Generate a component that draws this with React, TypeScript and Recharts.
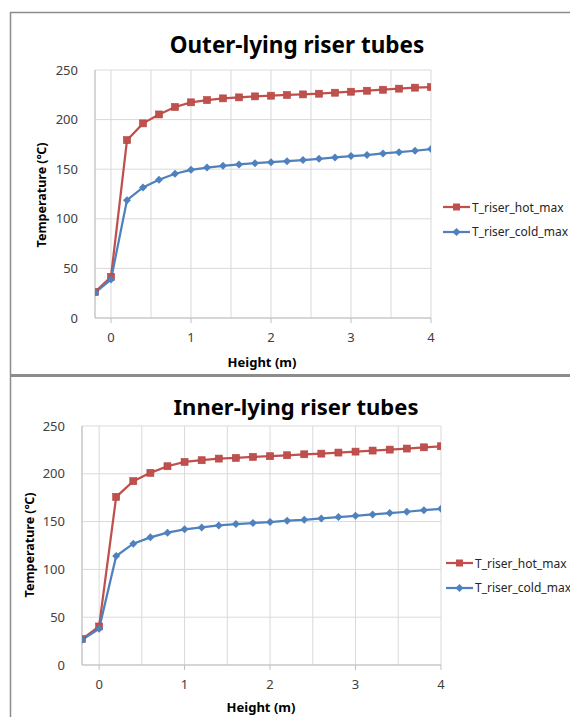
import React from 'react';
import { LineChart, Line, XAxis, YAxis, CartesianGrid, Legend } from 'recharts';

const heights = [-0.2, 0, 0.2, 0.4, 0.6, 0.8, 1.0, 1.2, 1.4, 1.6, 1.8, 2.0, 2.2, 2.4, 2.6, 2.8, 3.0, 3.2, 3.4, 3.6, 3.8, 4.0];
const outerHot = [26.2, 41.4, 179.3, 196.2, 205.2, 212.7, 217.4, 219.7, 221.4, 222.4, 223.4, 224.1, 224.8, 225.4, 226.1, 227.1, 228.1, 229.1, 230.1, 231.2, 232.2, 232.8];
const outerCold = [25.6, 38.7, 118.8, 131.6, 139.3, 145.4, 149.4, 151.7, 153.4, 154.8, 156.1, 157.1, 158.1, 159.2, 160.5, 161.8, 163.2, 164.2, 165.9, 167.2, 168.6, 170.3];
const innerHot = [27.1, 40.3, 175.9, 192.3, 201.0, 207.9, 212.4, 214.2, 215.9, 216.6, 217.7, 218.4, 219.4, 220.4, 221.1, 222.2, 223.2, 224.3, 225.3, 226.4, 227.7, 228.8];
const innerCold = [26.4, 37.9, 114.0, 126.9, 133.5, 138.4, 141.9, 143.9, 146.0, 147.4, 148.5, 149.5, 150.9, 151.9, 153.3, 154.7, 156.1, 157.5, 158.9, 160.3, 162.0, 163.4];

const seriesNames = ['T_riser_hot_max', 'T_riser_cold_max'];
const titles = ['Outer-lying riser tubes', 'Inner-lying riser tubes'];
const xTitle = 'Height (m)';
const yTitle = 'Temperature (℃)';
const xGridValues = [0, 0.5, 1, 1.5, 2, 2.5, 3, 3.5, 4];
const yTicks = [0, 50, 100, 150, 200, 250];

const HOT = '#C0504D';
const COLD = '#4F81BD';
const FONT = '"Noto Sans", "Open Sans", sans-serif';

const buildRows = (hot: number[], cold: number[]) =>
  heights.map((h, i) => ({ h, hot: hot[i], cold: cold[i] }));

const outerRows = buildRows(outerHot, outerCold);
const innerRows = buildRows(innerHot, innerCold);

const SquareDot = (props: any) => {
  const { cx, cy, index } = props;
  if (cx == null || cy == null) return <g key={`sq-${index}`} />;
  return <rect key={`sq-${index}`} x={cx - 3.5} y={cy - 3.5} width={7} height={7} fill={HOT} stroke="#B3433F" strokeWidth={0.6} />;
};

const DiamondDot = (props: any) => {
  const { cx, cy, index } = props;
  if (cx == null || cy == null) return <g key={`dm-${index}`} />;
  return <path key={`dm-${index}`} d={`M${cx},${cy - 4}L${cx + 4},${cy}L${cx},${cy + 4}L${cx - 4},${cy}Z`} fill={COLD} />;
};

// X tick: tick mark + label only on whole numbers; half steps only feed the grid
const XTick = (props: any) => {
  const { x, y, payload } = props;
  const v = payload?.value;
  if (!Number.isInteger(v)) return <g />;
  return (
    <g>
      <line x1={x} y1={y - 15} x2={x} y2={y - 10} stroke="#BFBFBF" strokeWidth={1} />
      <text x={x} y={y + 9} textAnchor="middle" fontSize={13} fill="#404040" fontFamily={FONT}>{v}</text>
    </g>
  );
};

const LegendContent = (props: any) => {
  const { payload } = props;
  const entries = [...(payload || [])].sort(
    (a: any, b: any) => seriesNames.indexOf(a.value) - seriesNames.indexOf(b.value)
  );
  return (
    <div style={{ fontFamily: FONT, fontSize: 12, color: '#262626' }}>
      {entries.map((entry: any, i: number) => {
        const isHot = entry.dataKey === 'hot';
        const c = isHot ? HOT : COLD;
        return (
          <div key={i} style={{ display: 'flex', alignItems: 'center', height: 24.5, whiteSpace: 'nowrap' }}>
            <svg width={28} height={12} style={{ display: 'block' }}>
              <line x1={0} y1={6} x2={27} y2={6} stroke={c} strokeWidth={2.25} />
              {isHot ? (
                <rect x={10} y={2.5} width={7} height={7} fill={c} />
              ) : (
                <path d="M13.5,2L17.5,6L13.5,10L9.5,6Z" fill={c} />
              )}
            </svg>
            <span style={{ marginLeft: 1 }}>{entry.value}</span>
          </div>
        );
      })}
    </div>
  );
};

type ChartProps = {
  rows: { h: number; hot: number; cold: number }[];
  height: number;
  margin: { top: number; right: number; bottom: number; left: number };
  yAxisWidth: number;
  xAxisHeight: number;
  legendLeft: number;
  legendTop: number;
};

const RiserChart = ({ rows, height, margin, yAxisWidth, xAxisHeight, legendLeft, legendTop }: ChartProps) => (
  <LineChart width={570} height={height} data={rows} margin={margin} style={{ fontFamily: FONT }}>
    <CartesianGrid stroke="#D9D9D9" strokeWidth={1} />
    <XAxis
      dataKey="h"
      type="number"
      domain={[-0.2, 4]}
      ticks={xGridValues}
      interval={0}
      allowDataOverflow
      height={xAxisHeight}
      tickLine={false}
      tickSize={5}
      tickMargin={10}
      stroke="#BFBFBF"
      tick={<XTick />}
    />
    <YAxis
      type="number"
      domain={[0, 250]}
      ticks={yTicks}
      interval={0}
      width={yAxisWidth}
      tickLine={false}
      tickSize={0}
      tickMargin={17}
      stroke="#BFBFBF"
      tick={{ fontSize: 13, fill: '#404040', fontFamily: FONT }}
    />
    <Legend
      layout="vertical"
      align="center"
      verticalAlign="middle"
      content={<LegendContent />}
      wrapperStyle={{ left: legendLeft, top: legendTop, width: 'auto' }}
    />
    <Line
      type="linear"
      dataKey="hot"
      name={seriesNames[0]}
      stroke={HOT}
      strokeWidth={2.25}
      dot={SquareDot}
      activeDot={false}
      isAnimationActive={false}
    />
    <Line
      type="linear"
      dataKey="cold"
      name={seriesNames[1]}
      stroke={COLD}
      strokeWidth={2.25}
      dot={DiamondDot}
      activeDot={false}
      isAnimationActive={false}
    />
  </LineChart>
);

export default function App() {
  return (
    <div style={{ position: 'absolute', left: 0, top: 0, width: 570, height: 717, background: '#fff', overflow: 'hidden' }}>
      <div style={{ position: 'absolute', left: 0, top: 0 }}>
        <RiserChart
          rows={outerRows}
          height={375}
          margin={{ top: 70, right: 139, bottom: 17, left: 30 }}
          yAxisWidth={65}
          xAxisHeight={40}
          legendLeft={443}
          legendTop={195}
        />
      </div>
      <div style={{ position: 'absolute', left: 0, top: 375 }}>
        <RiserChart
          rows={innerRows}
          height={342}
          margin={{ top: 51, right: 129, bottom: 22, left: 22 }}
          yAxisWidth={60}
          xAxisHeight={30}
          legendLeft={446}
          legendTop={176}
        />
      </div>
      <svg width={570} height={717} style={{ position: 'absolute', left: 0, top: 0, pointerEvents: 'none' }}>
        <line x1={10} y1={12.5} x2={570} y2={12.5} stroke="#8C8C8C" strokeWidth={1.5} />
        <line x1={10.5} y1={12} x2={10.5} y2={717} stroke="#8C8C8C" strokeWidth={1.5} />
        <line x1={10} y1={375.5} x2={570} y2={375.5} stroke="#8C8C8C" strokeWidth={3} />
        <text x={297} y={53} textAnchor="middle" fontFamily={FONT} fontWeight="bold" fontSize={22.5} fill="#000">{titles[0]}</text>
        <text x={296} y={415} textAnchor="middle" fontFamily={FONT} fontWeight="bold" fontSize={22} fill="#000">{titles[1]}</text>
        <text x={41} y={195} transform="rotate(-90 41 195)" textAnchor="middle" dominantBaseline="central" fontFamily={FONT} fontWeight="bold" fontSize={12.5} fill="#000">{yTitle}</text>
        <text x={29.5} y={545} transform="rotate(-90 29.5 545)" textAnchor="middle" dominantBaseline="central" fontFamily={FONT} fontWeight="bold" fontSize={12.5} fill="#000">{yTitle}</text>
        <text x={262} y={362} textAnchor="middle" dominantBaseline="central" fontFamily={FONT} fontWeight="bold" fontSize={13} fill="#000">{xTitle}</text>
        <text x={261} y={707} textAnchor="middle" dominantBaseline="central" fontFamily={FONT} fontWeight="bold" fontSize={13} fill="#000">{xTitle}</text>
      </svg>
    </div>
  );
}
